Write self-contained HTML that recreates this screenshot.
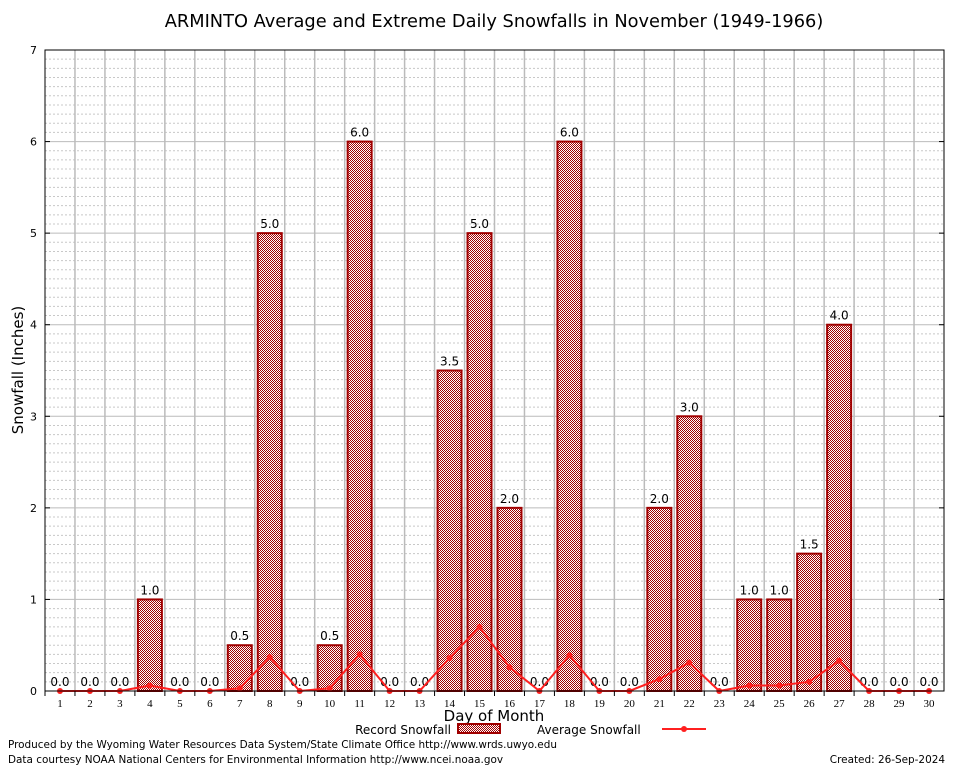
<!DOCTYPE html>
<html><head><meta charset="utf-8"><style>
body{margin:0;background:#fff;width:954px;height:768px;overflow:hidden;font-family:"DejaVu Sans","Liberation Sans",sans-serif}
</style></head><body>
<svg id="chart" width="954" height="768" xmlns="http://www.w3.org/2000/svg">
<defs><pattern id="chk" width="2" height="2" patternUnits="userSpaceOnUse"><rect width="2" height="2" fill="#fff"/><rect width="1" height="1" fill="#a00000"/><rect x="1" y="1" width="1" height="1" fill="#a00000"/></pattern></defs>
<rect x="0" y="0" width="954" height="768" fill="#fff"/>
<text x="494" y="27" font-size="17.8" text-anchor="middle">ARMINTO Average and Extreme Daily Snowfalls in November (1949-1966)</text>
<g id="grid"></g><g id="bars"></g><g id="line"></g><g id="axes"></g>
<text transform="translate(23,370) rotate(-90)" font-size="15" text-anchor="middle">Snowfall (Inches)</text>
<text x="494" y="721" font-size="15" text-anchor="middle">Day of Month</text>
<g>
<text x="451" y="734" font-size="12" text-anchor="end">Record Snowfall</text>
<rect x="458" y="724" width="42" height="9" fill="url(#chk)" stroke="#a00000" stroke-width="2"/>
<text x="537" y="734" font-size="12">Average Snowfall</text>
<line x1="662" y1="729" x2="706" y2="729" stroke="#ff2020" stroke-width="2"/>
<circle cx="684" cy="729" r="3" fill="#ff2020"/>
</g>
<text x="8" y="748" font-size="10.45">Produced by the Wyoming Water Resources Data System/State Climate Office http://www.wrds.uwyo.edu</text>
<text x="8" y="763" font-size="10.45">Data courtesy NOAA National Centers for Environmental Information http://www.ncei.noaa.gov</text>
<text x="945" y="763" font-size="10.45" text-anchor="end">Created:  26-Sep-2024</text>
</svg>
<script>
const days=[1,2,3,4,5,6,7,8,9,10,11,12,13,14,15,16,17,18,19,20,21,22,23,24,25,26,27,28,29,30];
const recordSnow=[0,0,0,1,0,0,0.5,5,0,0.5,6,0,0,3.5,5,2,0,6,0,0,2,3,0,1,1,1.5,4,0,0,0];
const avgSnow=[0,0,0,0.06,0,0,0.03,0.37,0,0.03,0.4,0,0,0.36,0.7,0.26,0,0.39,0,0,0.13,0.31,0,0.06,0.06,0.1,0.33,0,0,0];
const yTicks=[0,1,2,3,4,5,6,7];
const L=45,R=944,T=50,B=691,yMax=7;
const slot=(R-L)/days.length;
const xs=i=>L+slot*(i+0.5);
const ys=v=>B-(v/yMax)*(B-T);
const NS='http://www.w3.org/2000/svg';
function mk(p,t,a){const e=document.createElementNS(NS,t);for(const k in a)e.setAttribute(k,a[k]);p.appendChild(e);return e;}
const g=document.getElementById('grid'),bg=document.getElementById('bars'),lg=document.getElementById('line'),ag=document.getElementById('axes');
for(let k=1;k<yMax*10;k++){if(k%10===0)continue;const y=ys(k/10);
const l=mk(g,'line',{x1:L,x2:R,y1:y,y2:y,stroke:'#c8c8c8','stroke-dasharray':'2,2','stroke-width':1});

}
yTicks.forEach(v=>{const y=ys(v);
const l=mk(g,'line',{x1:L,x2:R,y1:y,y2:y,stroke:'#bbb','stroke-width':1});


const t=mk(ag,'text',{x:L-8,y:y+4,'font-size':11,'text-anchor':'end'});t.textContent=v;


mk(ag,'line',{x1:L,x2:L+5,y1:y,y2:y,stroke:'#000'});mk(ag,'line',{x1:R-5,x2:R,y1:y,y2:y,stroke:'#000'});});
for(let i=1;i<days.length;i++){const x=L+slot*i;
const l=mk(g,'line',{x1:x,x2:x,y1:T,y2:B,stroke:'#bbb','stroke-width':1.5});

}
days.forEach((d,i)=>{const x=xs(i),v=recordSnow[i];
if(v>0){const r=mk(bg,'rect',{x:x-12,y:ys(v),width:24,height:B-ys(v),fill:'url(#chk)',stroke:'#a00000','stroke-width':2});

}
const t=mk(bg,'text',{x:x,y:ys(v)-5,'font-size':12,'text-anchor':'middle'});t.textContent=v.toFixed(1);


const xl=mk(ag,'text',{x:x,y:B+16,'font-size':11,'text-anchor':'middle','font-family':'Liberation Serif,serif'});xl.textContent=d;


mk(ag,'line',{x1:L+slot*i,x2:L+slot*i,y1:B,y2:B+5,stroke:'#000'});});
const pl=mk(lg,'polyline',{points:avgSnow.map((v,i)=>xs(i)+','+ys(v)).join(' '),fill:'none',stroke:'#ff2020','stroke-width':2});


avgSnow.forEach((v,i)=>{const c=mk(lg,'circle',{cx:xs(i),cy:ys(v),r:3,fill:'#ff2020'});

});
const fr=mk(ag,'rect',{x:L,y:T,width:R-L,height:B-T,fill:'none',stroke:'#000','stroke-width':1});


</script>
</body></html>
